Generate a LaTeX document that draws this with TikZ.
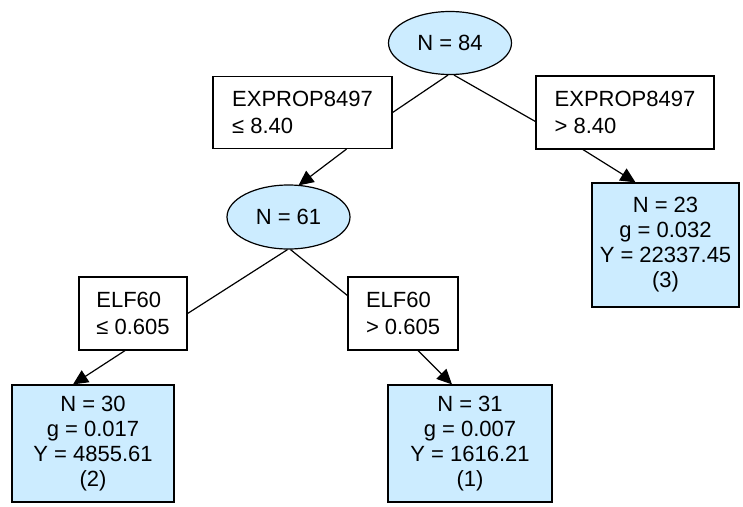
\documentclass[tikz,border=0pt]{standalone}
\usepackage{fontspec}
\setmainfont{Liberation Sans}
\usetikzlibrary{shapes.geometric,arrows.meta,calc}
\definecolor{leafblue}{RGB}{204,236,255}
\tikzset{
  split/.style={ellipse,draw,fill=leafblue,line width=1.2pt,inner sep=0pt,font=\fontsize{22}{25}\selectfont},
  cond/.style={rectangle,draw,fill=white,line width=1.2pt,inner sep=0pt,align=left,font=\fontsize{22}{27}\selectfont},
  leaf/.style={rectangle,draw,fill=leafblue,line width=1.2pt,inner sep=0pt,align=center,font=\fontsize{22}{25}\selectfont},
  link/.style={line width=1.2pt},
  arr/.style={line width=1.2pt,-{Triangle[length=15pt,width=14pt]}}
}
\begin{document}
\begin{tikzpicture}[x=1pt,y=-1pt]
\useasboundingbox (0,0) rectangle (743,506);
\node[split,minimum width=123pt,minimum height=63pt] (n84) at (450,43) {N = 84};
\node[cond,minimum width=179pt,minimum height=72pt] (l1) at (302.5,112.5) {EXPROP8497\\≤ 8.40};
\node[cond,minimum width=178pt,minimum height=73pt] (r1) at (625,112.5) {EXPROP8497\\> 8.40};
\node[split,minimum width=123pt,minimum height=64pt] (n61) at (288.5,217) {N = 61};
\node[cond,minimum width=108pt,minimum height=73pt] (l2) at (133,313.5) {ELF60\\≤ 0.605};
\node[cond,minimum width=110pt,minimum height=73pt] (r2) at (403,313.5) {ELF60\\> 0.605};
\node[leaf,minimum width=162pt,minimum height=117pt] (lf2) at (93,443.5) {N = 30\\g = 0.017\\Y = 4855.61\\(2)};
\node[leaf,minimum width=164pt,minimum height=117pt] (lf1) at (470,443.5) {N = 31\\g = 0.007\\Y = 1616.21\\(1)};
\node[leaf,minimum width=147pt,minimum height=124pt] (lf3) at (665.5,245) {N = 23\\g = 0.032\\Y = 22337.45\\(3)};
\draw[link] ($(n84.south)+(-2,0)$) -- (l1.east);
\draw[link] ($(n84.south)+(4,0)$) -- ($(r1.west)+(0,9)$);
\draw[arr] ($(l1.south)+(44,0)$) -- ($(n61.north)+(10,1)$);
\draw[arr] ($(r1.south)+(-42,0)$) -- ($(lf3.north)+(-30,0)$);
\draw[link] ($(n61.south)+(-1,0)$) -- (l2.east);
\draw[link] ($(n61.south)+(2,0)$) -- ($(r2.west)+(0,-18)$);
\draw[arr] ($(l2.south)+(-8,0)$) -- ($(lf2.north)+(-20,0)$);
\draw[arr] ($(r2.south)+(15,0)$) -- ($(lf1.north)+(-18,0)$);
\end{tikzpicture}
\end{document}
